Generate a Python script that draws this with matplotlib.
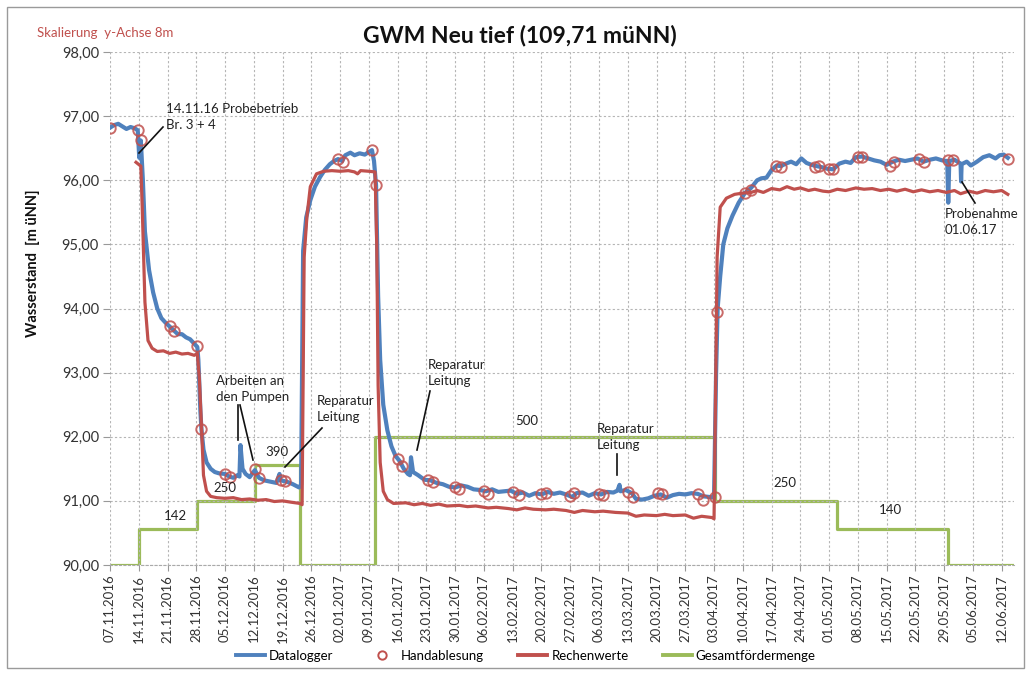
import matplotlib
matplotlib.use("Agg")
import matplotlib.pyplot as plt
import matplotlib.dates as mdates
import matplotlib.ticker as mticker
from matplotlib.lines import Line2D
from matplotlib.patches import Rectangle
import pandas as pd

plt.rcParams['font.family'] = ['Lato', 'DejaVu Sans']

# ---------------- data ----------------
logger_dates = [
    "2016-11-07 00:00", "2016-11-08 00:00", "2016-11-09 00:00", "2016-11-10 00:00", "2016-11-11 00:00",
    "2016-11-12 00:00", "2016-11-13 00:00", "2016-11-13 18:00", "2016-11-14 03:00", "2016-11-14 12:00",
    "2016-11-15 00:00", "2016-11-15 12:00", "2016-11-16 12:00", "2016-11-17 12:00", "2016-11-18 12:00",
    "2016-11-19 12:00", "2016-11-20 12:00", "2016-11-21 12:00", "2016-11-22 12:00", "2016-11-23 12:00",
    "2016-11-24 12:00", "2016-11-25 12:00", "2016-11-26 12:00", "2016-11-27 12:00", "2016-11-28 06:00",
    "2016-11-28 12:00", "2016-11-29 00:00", "2016-11-29 06:00", "2016-11-29 18:00", "2016-11-30 12:00",
    "2016-12-01 12:00", "2016-12-02 12:00", "2016-12-03 12:00", "2016-12-05 00:00", "2016-12-06 00:00",
    "2016-12-07 00:00", "2016-12-08 00:00", "2016-12-08 12:00", "2016-12-08 18:00", "2016-12-09 06:00",
    "2016-12-10 00:00", "2016-12-11 00:00", "2016-12-12 06:00", "2016-12-13 06:00", "2016-12-14 12:00",
    "2016-12-16 00:00", "2016-12-17 12:00", "2016-12-18 06:00", "2016-12-18 12:00", "2016-12-20 00:00",
    "2016-12-21 12:00", "2016-12-23 00:00", "2016-12-23 12:00", "2016-12-24 00:00", "2016-12-24 18:00",
    "2016-12-25 18:00", "2016-12-26 21:00", "2016-12-28 03:00", "2016-12-29 06:00", "2016-12-30 12:00",
    "2016-12-31 12:00", "2017-01-01 12:00", "2017-01-02 12:00", "2017-01-03 06:00", "2017-01-04 12:00",
    "2017-01-05 12:00", "2017-01-06 18:00", "2017-01-08 00:00", "2017-01-09 18:00", "2017-01-10 06:00",
    "2017-01-10 18:00", "2017-01-11 06:00", "2017-01-11 18:00", "2017-01-12 12:00", "2017-01-13 12:00",
    "2017-01-14 12:00", "2017-01-15 12:00", "2017-01-16 12:00", "2017-01-17 12:00", "2017-01-18 12:00",
    "2017-01-19 00:00", "2017-01-19 06:00", "2017-01-19 18:00", "2017-01-21 00:00", "2017-01-22 12:00",
    "2017-01-24 00:00", "2017-01-25 12:00", "2017-01-27 00:00", "2017-01-28 12:00", "2017-01-30 00:00",
    "2017-01-31 12:00", "2017-02-02 00:00", "2017-02-03 12:00", "2017-02-05 00:00", "2017-02-06 12:00",
    "2017-02-08 00:00", "2017-02-09 12:00", "2017-02-11 00:00", "2017-02-12 12:00", "2017-02-14 00:00",
    "2017-02-15 12:00", "2017-02-17 00:00", "2017-02-18 12:00", "2017-02-20 00:00", "2017-02-21 12:00",
    "2017-02-23 00:00", "2017-02-24 12:00", "2017-02-26 00:00", "2017-02-27 12:00", "2017-02-28 12:00",
    "2017-03-02 00:00", "2017-03-03 12:00", "2017-03-05 00:00", "2017-03-06 12:00", "2017-03-08 00:00",
    "2017-03-09 12:00", "2017-03-10 12:00", "2017-03-11 00:00", "2017-03-11 06:00", "2017-03-12 12:00",
    "2017-03-14 00:00", "2017-03-15 00:00", "2017-03-16 12:00", "2017-03-18 00:00", "2017-03-19 12:00",
    "2017-03-21 00:00", "2017-03-22 12:00", "2017-03-24 00:00", "2017-03-25 12:00", "2017-03-27 00:00",
    "2017-03-28 12:00", "2017-03-30 00:00", "2017-03-31 12:00", "2017-04-02 00:00", "2017-04-03 00:00",
    "2017-04-03 12:00", "2017-04-03 21:00", "2017-04-04 12:00", "2017-04-05 06:00", "2017-04-06 06:00",
    "2017-04-07 12:00", "2017-04-09 00:00", "2017-04-10 12:00", "2017-04-12 00:00", "2017-04-13 12:00",
    "2017-04-14 12:00", "2017-04-15 18:00", "2017-04-17 00:00", "2017-04-18 06:00", "2017-04-19 06:00",
    "2017-04-20 12:00", "2017-04-21 18:00", "2017-04-23 00:00", "2017-04-24 06:00", "2017-04-25 12:00",
    "2017-04-26 18:00", "2017-04-28 00:00", "2017-04-29 12:00", "2017-04-30 12:00", "2017-05-02 00:00",
    "2017-05-03 12:00", "2017-05-05 00:00", "2017-05-06 06:00", "2017-05-07 12:00", "2017-05-09 00:00",
    "2017-05-10 12:00", "2017-05-12 00:00", "2017-05-13 12:00", "2017-05-15 00:00", "2017-05-16 12:00",
    "2017-05-18 00:00", "2017-05-19 12:00", "2017-05-21 00:00", "2017-05-22 12:00", "2017-05-24 00:00",
    "2017-05-25 12:00", "2017-05-27 00:00", "2017-05-28 12:00", "2017-05-29 18:00", "2017-05-30 00:00",
    "2017-05-30 06:00", "2017-05-31 12:00", "2017-06-01 12:00", "2017-06-02 00:00", "2017-06-02 03:00",
    "2017-06-02 06:00", "2017-06-03 12:00", "2017-06-04 12:00", "2017-06-06 00:00", "2017-06-07 12:00",
    "2017-06-09 00:00", "2017-06-10 12:00", "2017-06-11 12:00", "2017-06-12 12:00", "2017-06-13 12:00",
]
logger_values = [
    96.82, 96.86, 96.88, 96.84, 96.80,
    96.83, 96.81, 96.78, 96.35, 96.62,
    96.00, 95.20, 94.60, 94.25, 94.00,
    93.85, 93.78, 93.72, 93.66, 93.60,
    93.60, 93.55, 93.52, 93.45, 93.40,
    93.20, 92.40, 92.12, 91.80, 91.60,
    91.50, 91.45, 91.43, 91.42, 91.38,
    91.36, 91.40, 91.38, 91.87, 91.50,
    91.42, 91.37, 91.48, 91.36, 91.32,
    91.30, 91.28, 91.42, 91.32, 91.30,
    91.26, 91.21, 91.25, 94.90, 95.42,
    95.69, 95.90, 96.05, 96.16, 96.25,
    96.30, 96.33, 96.30, 96.39, 96.43,
    96.39, 96.42, 96.40, 96.47, 96.30,
    95.92, 94.20, 93.20, 92.50, 92.10,
    91.85, 91.70, 91.62, 91.50, 91.42,
    91.40, 91.68, 91.45, 91.40, 91.33,
    91.32, 91.28, 91.26, 91.22, 91.21,
    91.24, 91.22, 91.18, 91.17, 91.15,
    91.18, 91.14, 91.15, 91.16, 91.11,
    91.13, 91.08, 91.12, 91.10, 91.14,
    91.11, 91.13, 91.10, 91.06, 91.12,
    91.13, 91.08, 91.12, 91.10, 91.14,
    91.13, 91.16, 91.25, 91.15, 91.17,
    91.12, 91.03, 91.02, 91.04, 91.08,
    91.10, 91.05, 91.09, 91.11, 91.10,
    91.12, 91.11, 91.07, 91.06, 91.05,
    93.00, 94.00, 94.50, 95.00, 95.25,
    95.45, 95.65, 95.80, 95.88, 96.00,
    96.03, 96.04, 96.16, 96.23, 96.22,
    96.26, 96.29, 96.25, 96.34, 96.27,
    96.24, 96.22, 96.20, 96.18, 96.17,
    96.26, 96.29, 96.27, 96.36, 96.37,
    96.34, 96.31, 96.29, 96.24, 96.29,
    96.32, 96.30, 96.32, 96.34, 96.29,
    96.32, 96.34, 96.31, 96.30, 95.65,
    96.30, 96.32, 96.28, 96.26, 95.98,
    96.25, 96.29, 96.23, 96.29, 96.36,
    96.39, 96.34, 96.39, 96.40, 96.35,
]

hand_dates = [
    "2016-11-07 00:00", "2016-11-13 18:00", "2016-11-14 12:00", "2016-11-21 12:00", "2016-11-22 12:00",
    "2016-11-28 06:00", "2016-11-29 06:00", "2016-12-05 00:00", "2016-12-06 06:00", "2016-12-12 06:00",
    "2016-12-13 06:00", "2016-12-18 12:00", "2016-12-19 12:00", "2017-01-01 12:00", "2017-01-02 18:00",
    "2017-01-09 18:00", "2017-01-10 18:00", "2017-01-16 00:00", "2017-01-17 00:00", "2017-01-23 12:00",
    "2017-01-24 12:00", "2017-01-30 00:00", "2017-01-31 00:00", "2017-02-06 00:00", "2017-02-07 00:00",
    "2017-02-13 00:00", "2017-02-14 12:00", "2017-02-20 00:00", "2017-02-21 00:00", "2017-02-27 00:00",
    "2017-02-28 00:00", "2017-03-06 00:00", "2017-03-07 00:00", "2017-03-13 00:00", "2017-03-14 06:00",
    "2017-03-20 06:00", "2017-03-21 06:00", "2017-03-30 00:00", "2017-03-31 06:00", "2017-04-03 06:00",
    "2017-04-03 18:00", "2017-04-10 12:00", "2017-04-12 00:00", "2017-04-18 00:00", "2017-04-19 06:00",
    "2017-04-27 12:00", "2017-04-28 12:00", "2017-05-01 00:00", "2017-05-02 00:00", "2017-05-08 00:00",
    "2017-05-09 00:00", "2017-05-15 18:00", "2017-05-16 18:00", "2017-05-22 21:00", "2017-05-24 00:00",
    "2017-05-30 00:00", "2017-05-31 06:00", "2017-06-13 12:00",
]
hand_values = [
    96.82, 96.78, 96.62, 93.72, 93.65,
    93.42, 92.12, 91.42, 91.38, 91.50,
    91.36, 91.33, 91.31, 96.33, 96.29,
    96.47, 95.92, 91.65, 91.55, 91.32,
    91.30, 91.22, 91.19, 91.15, 91.11,
    91.14, 91.09, 91.10, 91.13, 91.07,
    91.12, 91.11, 91.09, 91.14, 91.06,
    91.13, 91.10, 91.11, 91.02, 91.06,
    93.95, 95.80, 95.85, 96.23, 96.20,
    96.20, 96.23, 96.18, 96.17, 96.36,
    96.36, 96.23, 96.29, 96.33, 96.29,
    96.31, 96.31, 96.33,
]

calc_dates = [
    "2016-11-13 08:00", "2016-11-14 12:00", "2016-11-14 20:00", "2016-11-15 12:00", "2016-11-16 06:00",
    "2016-11-17 06:00", "2016-11-18 12:00", "2016-11-20 00:00", "2016-11-21 12:00", "2016-11-23 00:00",
    "2016-11-24 12:00", "2016-11-26 00:00", "2016-11-27 12:00", "2016-11-28 06:00", "2016-11-28 18:00",
    "2016-11-29 06:00", "2016-11-29 18:00", "2016-11-30 12:00", "2016-12-01 12:00", "2016-12-03 00:00",
    "2016-12-05 00:00", "2016-12-07 00:00", "2016-12-09 00:00", "2016-12-11 00:00", "2016-12-13 00:00",
    "2016-12-15 00:00", "2016-12-17 00:00", "2016-12-19 00:00", "2016-12-21 00:00", "2016-12-23 06:00",
    "2016-12-23 18:00", "2016-12-24 06:00", "2016-12-24 22:00", "2016-12-25 18:00", "2016-12-27 06:00",
    "2016-12-29 00:00", "2016-12-31 00:00", "2017-01-02 00:00", "2017-01-04 00:00", "2017-01-05 12:00",
    "2017-01-06 06:00", "2017-01-07 00:00", "2017-01-09 00:00", "2017-01-10 12:00", "2017-01-10 22:00",
    "2017-01-11 06:00", "2017-01-11 18:00", "2017-01-12 12:00", "2017-01-13 12:00", "2017-01-15 00:00",
    "2017-01-18 00:00", "2017-01-20 00:00", "2017-01-22 00:00", "2017-01-24 00:00", "2017-01-26 00:00",
    "2017-01-28 00:00", "2017-01-31 00:00", "2017-02-02 00:00", "2017-02-04 00:00", "2017-02-07 00:00",
    "2017-02-09 00:00", "2017-02-12 00:00", "2017-02-14 00:00", "2017-02-16 00:00", "2017-02-18 00:00",
    "2017-02-21 00:00", "2017-02-23 00:00", "2017-02-26 00:00", "2017-02-28 00:00", "2017-03-02 00:00",
    "2017-03-05 00:00", "2017-03-07 00:00", "2017-03-10 00:00", "2017-03-13 00:00", "2017-03-15 00:00",
    "2017-03-17 00:00", "2017-03-20 00:00", "2017-03-22 00:00", "2017-03-24 00:00", "2017-03-27 00:00",
    "2017-03-29 00:00", "2017-03-31 00:00", "2017-04-02 12:00", "2017-04-03 00:00", "2017-04-03 06:00",
    "2017-04-03 18:00", "2017-04-04 12:00", "2017-04-06 00:00", "2017-04-08 00:00", "2017-04-10 00:00",
    "2017-04-12 00:00", "2017-04-13 12:00", "2017-04-15 00:00", "2017-04-17 00:00", "2017-04-19 00:00",
    "2017-04-20 18:00", "2017-04-22 12:00", "2017-04-24 00:00", "2017-04-26 00:00", "2017-04-27 12:00",
    "2017-04-29 12:00", "2017-05-01 00:00", "2017-05-03 00:00", "2017-05-05 00:00", "2017-05-07 12:00",
    "2017-05-09 12:00", "2017-05-11 12:00", "2017-05-13 12:00", "2017-05-15 12:00", "2017-05-17 12:00",
    "2017-05-19 12:00", "2017-05-21 12:00", "2017-05-23 12:00", "2017-05-25 12:00", "2017-05-27 12:00",
    "2017-05-29 12:00", "2017-05-31 12:00", "2017-06-02 00:00", "2017-06-04 00:00", "2017-06-06 00:00",
    "2017-06-08 00:00", "2017-06-10 00:00", "2017-06-12 00:00", "2017-06-13 12:00",
]
calc_values = [
    96.28, 96.22, 95.60, 94.10, 93.50,
    93.38, 93.33, 93.34, 93.30, 93.32,
    93.29, 93.30, 93.27, 93.30, 92.90,
    92.18, 91.40, 91.15, 91.07, 91.05,
    91.04, 91.05, 91.02, 91.03, 91.01,
    91.02, 90.99, 91.00, 90.98, 90.96,
    90.94, 94.80, 95.43, 95.90, 96.10,
    96.14, 96.15, 96.14, 96.15, 96.13,
    96.10, 96.15, 96.14, 96.13, 95.00,
    92.80, 91.60, 91.15, 91.02, 90.96,
    90.97, 90.94, 90.96, 90.93, 90.95,
    90.92, 90.93, 90.91, 90.92, 90.89,
    90.90, 90.88, 90.86, 90.89, 90.87,
    90.86, 90.87, 90.85, 90.82, 90.85,
    90.83, 90.84, 90.82, 90.81, 90.76,
    90.78, 90.77, 90.79, 90.77, 90.78,
    90.73, 90.76, 90.74, 90.72, 92.00,
    94.80, 95.58, 95.72, 95.78, 95.80,
    95.81, 95.84, 95.81, 95.87, 95.85,
    95.90, 95.86, 95.88, 95.84, 95.86,
    95.83, 95.82, 95.86, 95.84, 95.88,
    95.86, 95.87, 95.84, 95.86, 95.83,
    95.86, 95.82, 95.85, 95.82, 95.84,
    95.81, 95.84, 95.79, 95.83, 95.80,
    95.84, 95.82, 95.84, 95.78,
]

pump_dates = [
    "2016-11-07 00:00", "2016-11-14 00:00", "2016-11-28 06:00", "2016-12-12 06:00", "2016-12-23 06:00",
    "2017-01-10 14:00", "2017-04-03 06:00", "2017-05-03 00:00", "2017-05-30 00:00", "2017-06-15 00:00",
]
pump_values = [0, 142, 250, 390, 0, 500, 250, 140, 0, 0]

pump_labels = ["142", "250", "390", "500", "250", "140"]
legend_labels = ["Datalogger", "Handablesung", "Rechenwerte", "Gesamtfördermenge"]
title_text = "GWM Neu tief (109,71 müNN)"
y_label = "Wasserstand  [m üNN]"
scale_note = "Skalierung  y-Achse 8m"

# ---------------- figure ----------------
W, H = 1029, 681
fig = plt.figure(figsize=(W / 100, H / 100), dpi=100)
fig.patch.set_facecolor("white")

def fx(x):
    return x / W

def fy(y):
    return 1 - y / H

ax = fig.add_axes([fx(110), fy(565), fx(1014) - fx(110), fy(52) - fy(565)])
ax2 = ax.twinx()

c_blue = "#4f81bd"
c_red = "#c0504d"
c_green = "#9bbb59"

ld = pd.to_datetime(logger_dates)
hd = pd.to_datetime(hand_dates)
cd = pd.to_datetime(calc_dates)
pd_ = pd.to_datetime(pump_dates)

ax2.step(pd_, pump_values, where="post", color=c_green, lw=2.3, zorder=1)
ax.plot(ld, logger_values, color=c_blue, lw=3.0, zorder=3, solid_joinstyle="round")
ax.plot(cd, calc_values, color=c_red, lw=2.3, zorder=4, solid_joinstyle="round")
ax.plot(hd, hand_values, ls="none", marker="o", ms=7.5, mfc="none", mec="#c0504d",
        mew=1.4, alpha=0.85, zorder=5)

ax.set_zorder(ax2.get_zorder() + 1)
ax.patch.set_visible(False)

ax.set_ylim(90, 98)
ax2.set_ylim(0, 2000)
ax2.set_yticks([])
start = pd.Timestamp("2016-11-07")
end = pd.Timestamp("2017-06-15")
ax.set_xlim(start, end)

ax.yaxis.set_major_locator(mticker.MultipleLocator(1))
ax.yaxis.set_major_formatter(mticker.FuncFormatter(lambda v, p: f"{v:.2f}".replace(".", ",")))
ax.xaxis.set_major_locator(mdates.WeekdayLocator(byweekday=mdates.MO, interval=1))
ax.xaxis.set_major_formatter(mdates.DateFormatter("%d.%m.%Y"))
ax.tick_params(axis="x", labelrotation=90, labelsize=9.5, colors="#333333", length=4,
               color="#999999", pad=3)
ax.tick_params(axis="y", labelsize=10.5, colors="#333333", length=5, color="#999999", pad=3)

ax.grid(True, which="major", axis="both", color="#b5b5b5", lw=0.8, ls=(0, (2, 2)))
for a in (ax, ax2):
    for s in a.spines.values():
        s.set_visible(False)
ax.spines["bottom"].set_visible(True)
ax.spines["bottom"].set_color("#aaaaaa")
ax.spines["bottom"].set_linestyle((0, (2, 2)))

fig.text(fx(33), fy(263), y_label, rotation=90, ha="center", va="center", fontsize=10.5,
         fontweight="bold", color="#111111")

fig.text(fx(520), fy(36), title_text, ha="center", va="center", fontsize=16.5,
         fontweight="bold", color="#111111")
fig.text(fx(37), fy(33), scale_note, ha="left", va="center", fontsize=9.5, color=c_red)

# pump rate labels
pump_label_pos = [(175, 516), (225, 488), (277, 452), (527, 421), (785, 483), (890, 510)]
for t, (x, y) in zip(pump_labels, pump_label_pos):
    fig.text(fx(x), fy(y), t, ha="center", va="center", fontsize=9.5, color="#222222")

# annotations
ann_fs = 9.5
notes = [
    ("14.11.16 Probebetrieb\nBr. 3 + 4", 166, 117, [((163, 127), (139, 153))]),
    ("Arbeiten an\nden Pumpen", 216, 389, [((238, 405), (238, 440)), ((240, 405), (253, 460))]),
    ("Reparatur\nLeitung", 317, 409, [((322, 428), (285, 467))]),
    ("Reparatur\nLeitung", 428, 373, [((430, 391), (417, 450))]),
    ("Reparatur\nLeitung", 597, 437, [((617, 454), (617, 475))]),
    ("Probenahme\n01.06.17", 945, 222, [((962, 182), (975, 203))]),
]
for txt, x, y, lines in notes:
    fig.text(fx(x), fy(y), txt, ha="left", va="center", fontsize=ann_fs, color="#222222",
             linespacing=1.4)
    for (x0, y0), (x1, y1) in lines:
        fig.add_artist(Line2D([fx(x0), fx(x1)], [fy(y0), fy(y1)], color="#111111", lw=1.2))

# legend
handles = [
    Line2D([], [], color=c_blue, lw=2.8),
    Line2D([], [], ls="none", marker="o", ms=6, mfc="none", mec=c_red, mew=1.4),
    Line2D([], [], color=c_red, lw=2.8),
    Line2D([], [], color=c_green, lw=2.8),
]
fig.legend(handles, legend_labels, loc="center", bbox_to_anchor=(fx(526), fy(656)), ncol=4,
           frameon=False, fontsize=9.5, handlelength=2.2, handletextpad=0.3, columnspacing=2.6)

# outer chart border
fig.add_artist(Rectangle((fx(7), fy(668)), fx(1024) - fx(7), fy(7) - fy(668), fill=False,
                         edgecolor="#9a9a9a", lw=1.0, transform=fig.transFigure))

fig.savefig("out.png", dpi=100)
